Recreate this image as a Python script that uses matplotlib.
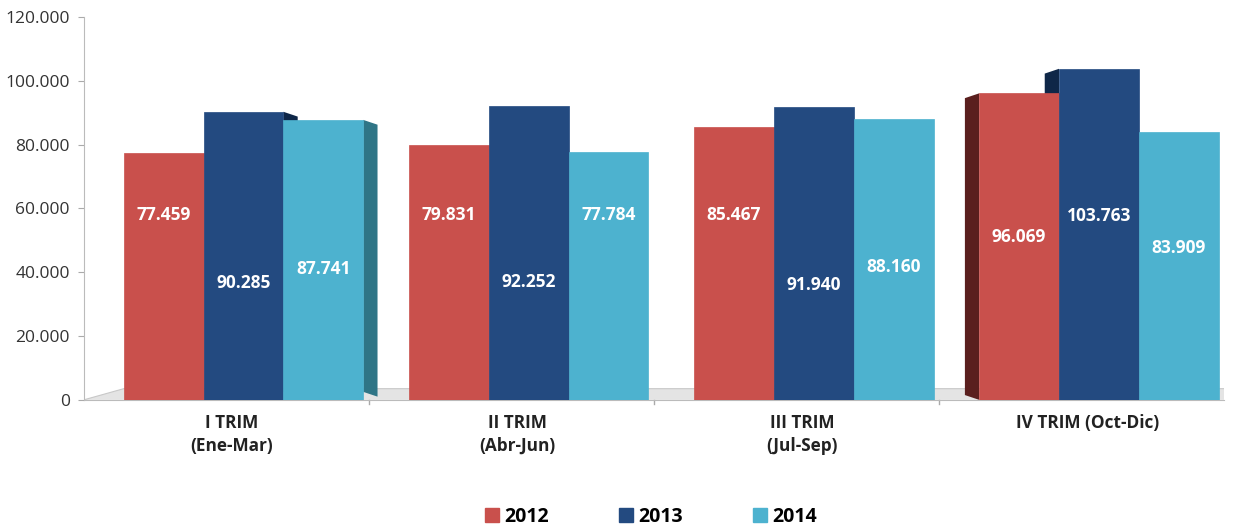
import matplotlib
matplotlib.use("Agg")
import matplotlib.pyplot as plt
import numpy as np
from matplotlib.patches import Patch

categories = ["I TRIM\n(Ene-Mar)", "II TRIM\n(Abr-Jun)", "III TRIM\n(Jul-Sep)", "IV TRIM (Oct-Dic)"]
series_names = ["2012", "2013", "2014"]
v2012 = [77459, 79831, 85467, 96069]
v2013 = [90285, 92252, 91940, 103763]
v2014 = [87741, 77784, 88160, 83909]
labels2012 = ["77.459", "79.831", "85.467", "96.069"]
labels2013 = ["90.285", "92.252", "91.940", "103.763"]
labels2014 = ["87.741", "77.784", "88.160", "83.909"]
# vertical placement of value labels (data units)
labely2012 = [58000, 58000, 58000, 51000]
labely2013 = [36500, 37000, 36000, 57500]
labely2014 = [41000, 58000, 41500, 47500]
yticks = [0, 20000, 40000, 60000, 80000, 100000, 120000]
ytick_labels = ["0", "20.000", "40.000", "60.000", "80.000", "100.000", "120.000"]

colors = ["#c9504c", "#234a80", "#4db2cf"]
side_colors = ["#5a1f1e", "#0f2748", "#2f7586"]

plt.rcParams['font.family'] = ['Open Sans', 'DejaVu Sans']

fig = plt.figure(figsize=(12.33, 5.31), dpi=100)
ax = fig.add_axes([0.068, 0.247, 0.925, 0.721])

x = np.arange(len(categories))
w = 0.28
shift = 0.06
data = [v2012, v2013, v2014]
labs = [labels2012, labels2013, labels2014]
labys = [labely2012, labely2013, labely2014]

# floor
ax.fill([-0.5, -0.36, 3.5, 3.5], [0, 3500, 3500, 0], color="#e4e4e4", zorder=1, lw=0)
ax.plot([-0.5, -0.36, 3.5], [0, 3500, 3500], color="#c8c8c8", lw=0.8, zorder=1)

for i, (vals, col, sc) in enumerate(zip(data, colors, side_colors)):
    pos = x + (i - 1) * w + shift
    ax.bar(pos, vals, width=w, color=col, zorder=3, edgecolor=col, lw=0.5)
    for p, v, t, ly in zip(pos, vals, labs[i], labys[i]):
        ax.text(p, ly, t, ha="center", va="center", color="white",
                fontsize=12.5, fontweight="bold", zorder=5)

# a few 3D side faces
depth = 0.05
dy = 1500
for gi, si in [(0, 1), (0, 2)]:
    p = x[gi] + (si - 1) * w + shift + w / 2
    v = data[si][gi]
    ax.fill([p, p + depth, p + depth, p], [v, v - dy, 1000, 2500], color=side_colors[si], zorder=2, lw=0)
for gi, si in [(3, 0), (3, 1)]:
    p = x[gi] + (si - 1) * w + shift - w / 2
    v = data[si][gi]
    ax.fill([p, p - depth, p - depth, p], [v, v - dy, 1500, 0], color=side_colors[si], zorder=2, lw=0)

ax.set_xlim(-0.5, 3.5)
ax.set_ylim(0, 120000)
ax.set_yticks(yticks)
ax.set_yticklabels(ytick_labels, fontsize=12.5, color="#333333")
ax.set_xticks(x + 0.02)
ax.set_xticklabels(categories, fontsize=12.4, fontweight="bold", color="#222222", linespacing=1.35)
ax.tick_params(axis="x", length=0, pad=10)
ax.tick_params(axis="y", length=4, color="#aaaaaa", pad=6)
for b in [0.5, 1.5, 2.5]:
    ax.plot([b, b], [0, -0.012], transform=ax.get_xaxis_transform(), color="#aaaaaa", lw=1, clip_on=False)

for s in ["top", "right"]:
    ax.spines[s].set_visible(False)
ax.spines["left"].set_color("#bbbbbb")
ax.spines["bottom"].set_color("#bbbbbb")

handles = [Patch(facecolor=c, edgecolor=c) for c in colors]
fig.legend(handles, series_names, loc="lower center", bbox_to_anchor=(0.528, -0.025), ncol=3,
           frameon=False, prop={"size": 14, "weight": "bold"}, handlelength=0.7, handleheight=0.7,
           handletextpad=0.3, columnspacing=3.6)

fig.savefig("out.png", dpi=100)
